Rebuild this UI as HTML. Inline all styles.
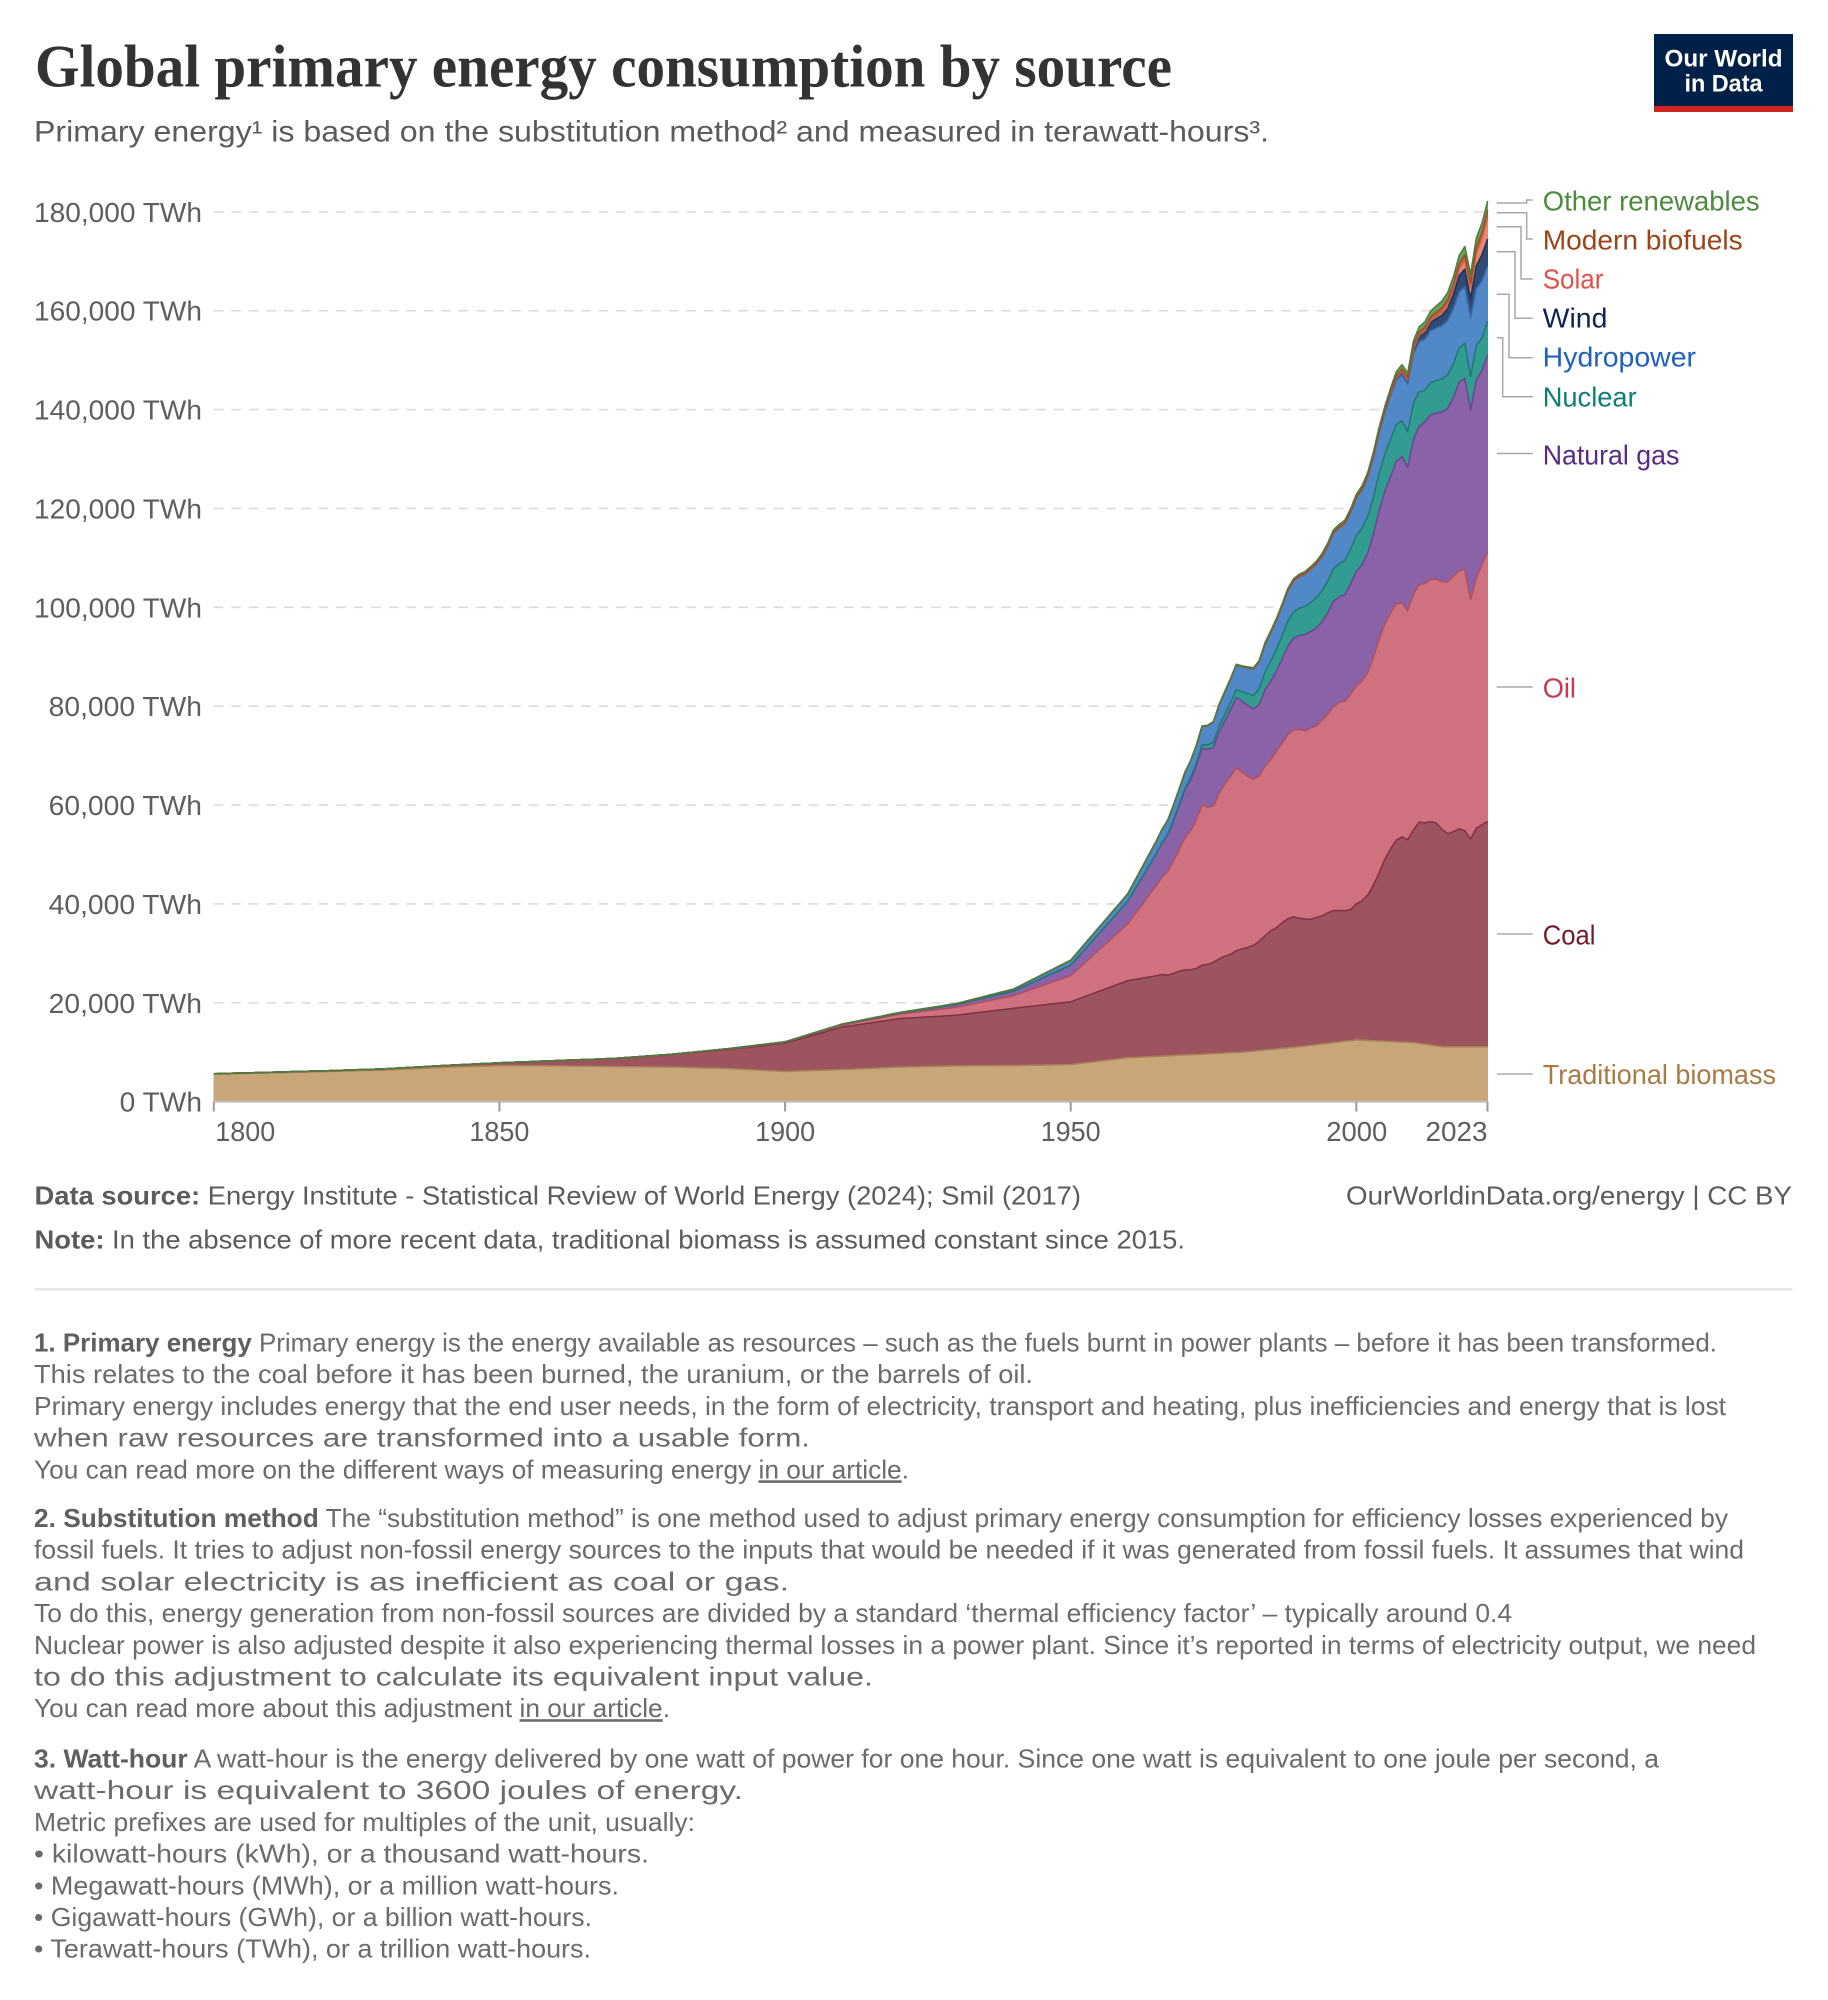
<!DOCTYPE html>
<html>
<head>
<meta charset="utf-8">
<style>
  html,body{margin:0;padding:0;background:#fff;}
  svg{display:block;}
  text{font-family:"Liberation Sans",Arial,sans-serif;}
</style>
</head>
<body>
<svg id="root" xmlns="http://www.w3.org/2000/svg" width="1828" height="2000" viewBox="0 0 1828 2000">
  <rect x="0" y="0" width="1828" height="2000" fill="#ffffff"/>

  <!-- Title -->
  <text x="35" y="86.5" font-family="Liberation Serif, serif" font-weight="bold" font-size="60" fill="#333333" textLength="1137" lengthAdjust="spacingAndGlyphs" style="font-family:'Liberation Serif',serif">Global primary energy consumption by source</text>
  <text x="34" y="141.7" font-size="30" fill="#5b5b5b" textLength="1235" lengthAdjust="spacingAndGlyphs">Primary energy¹ is based on the substitution method² and measured in terawatt-hours³.</text>

  <!-- Logo -->
  <rect x="1654" y="34" width="139" height="72" fill="#002147"/>
  <rect x="1654" y="106" width="139" height="6" fill="#ce261e"/>
  <text x="1664.5" y="66.7" font-size="24" font-weight="bold" fill="#ffffff" textLength="118" lengthAdjust="spacingAndGlyphs">Our World</text>
  <text x="1684.5" y="91.7" font-size="24" font-weight="bold" fill="#ffffff" textLength="78" lengthAdjust="spacingAndGlyphs">in Data</text>

  <!-- Gridlines -->
  <g stroke="#dadada" stroke-width="1.6" stroke-dasharray="9.5,8" fill="none">
    <line x1="213.8" x2="1487.5" y1="1002.83" y2="1002.83"/>
    <line x1="213.8" x2="1487.5" y1="903.96" y2="903.96"/>
    <line x1="213.8" x2="1487.5" y1="805.09" y2="805.09"/>
    <line x1="213.8" x2="1487.5" y1="706.22" y2="706.22"/>
    <line x1="213.8" x2="1487.5" y1="607.35" y2="607.35"/>
    <line x1="213.8" x2="1487.5" y1="508.48" y2="508.48"/>
    <line x1="213.8" x2="1487.5" y1="409.61" y2="409.61"/>
    <line x1="213.8" x2="1487.5" y1="310.74" y2="310.74"/>
    <line x1="213.8" x2="1487.5" y1="211.87" y2="211.87"/>
  </g>

  <!-- Y labels -->
  <g font-size="28" fill="#5e5e5e">
    <text x="34" y="221.9" textLength="168" lengthAdjust="spacingAndGlyphs">180,000 TWh</text>
    <text x="34" y="320.7" textLength="168" lengthAdjust="spacingAndGlyphs">160,000 TWh</text>
    <text x="34" y="419.6" textLength="168" lengthAdjust="spacingAndGlyphs">140,000 TWh</text>
    <text x="34" y="518.5" textLength="168" lengthAdjust="spacingAndGlyphs">120,000 TWh</text>
    <text x="34" y="617.4" textLength="168" lengthAdjust="spacingAndGlyphs">100,000 TWh</text>
    <text x="48.7" y="716.2" textLength="153.3" lengthAdjust="spacingAndGlyphs">80,000 TWh</text>
    <text x="48.7" y="815.1" textLength="153.3" lengthAdjust="spacingAndGlyphs">60,000 TWh</text>
    <text x="48.7" y="914.0" textLength="153.3" lengthAdjust="spacingAndGlyphs">40,000 TWh</text>
    <text x="48.7" y="1012.8" textLength="153.3" lengthAdjust="spacingAndGlyphs">20,000 TWh</text>
    <text x="119.7" y="1111.7" textLength="82.3" lengthAdjust="spacingAndGlyphs">0 TWh</text>
  </g>

  <!-- Areas -->
  <g id="areas"></g>
  <g id="lines"></g>

  <!-- X axis -->
  <line x1="213.8" x2="1487.5" y1="1101.7" y2="1101.7" stroke="#c2c2c2" stroke-width="2"/>
  <g stroke="#9a9a9a" stroke-width="2">
    <line x1="213.8" x2="213.8" y1="1101.7" y2="1111.5"/>
    <line x1="499.4" x2="499.4" y1="1101.7" y2="1111.5"/>
    <line x1="785.1" x2="785.1" y1="1101.7" y2="1111.5"/>
    <line x1="1070.7" x2="1070.7" y1="1101.7" y2="1111.5"/>
    <line x1="1356.3" x2="1356.3" y1="1101.7" y2="1111.5"/>
    <line x1="1487.5" x2="1487.5" y1="1101.7" y2="1111.5"/>
  </g>
  <g font-size="28" fill="#5e5e5e">
    <text x="215.3" y="1141" textLength="60" lengthAdjust="spacingAndGlyphs">1800</text>
    <text x="469.4" y="1141" textLength="60" lengthAdjust="spacingAndGlyphs">1850</text>
    <text x="755.1" y="1141" textLength="60" lengthAdjust="spacingAndGlyphs">1900</text>
    <text x="1040.7" y="1141" textLength="60" lengthAdjust="spacingAndGlyphs">1950</text>
    <text x="1326.3" y="1141" textLength="61" lengthAdjust="spacingAndGlyphs">2000</text>
    <text x="1425.5" y="1141" textLength="62" lengthAdjust="spacingAndGlyphs">2023</text>
  </g>

  <!-- Legend leader lines -->
  <g stroke="#a8a8a8" stroke-width="1.5" fill="none">
    <path d="M1496.7,203 H1526.7 V200 H1532.7"/>
    <path d="M1496.7,212.7 H1526.7 V239 H1532.7"/>
    <path d="M1496.7,226.7 H1521 V279 H1532.7"/>
    <path d="M1496.7,251.7 H1515 V318.3 H1532.7"/>
    <path d="M1496.7,294.3 H1509 V357.7 H1532.7"/>
    <path d="M1496.7,337.7 H1502.7 V396.7 H1532.7"/>
    <path d="M1496.7,453.5 H1532.7"/>
    <path d="M1496.7,687 H1532.7"/>
    <path d="M1496.7,934 H1532.7"/>
    <path d="M1496.7,1074 H1532.7"/>
  </g>
  <g font-size="28">
    <text x="1542.7" y="210.7" fill="#4c8a3c" textLength="217" lengthAdjust="spacingAndGlyphs">Other renewables</text>
    <text x="1542.7" y="249.3" fill="#9c4418" textLength="200" lengthAdjust="spacingAndGlyphs">Modern biofuels</text>
    <text x="1542.7" y="288.3" fill="#de5248" textLength="60.7" lengthAdjust="spacingAndGlyphs">Solar</text>
    <text x="1542.7" y="327.3" fill="#0f2452" textLength="64.7" lengthAdjust="spacingAndGlyphs">Wind</text>
    <text x="1542.7" y="366.7" fill="#1f60c0" textLength="153.3" lengthAdjust="spacingAndGlyphs">Hydropower</text>
    <text x="1542.7" y="406.7" fill="#0f7f74" textLength="94" lengthAdjust="spacingAndGlyphs">Nuclear</text>
    <text x="1542.7" y="464.6" fill="#5a2a85" textLength="136.7" lengthAdjust="spacingAndGlyphs">Natural gas</text>
    <text x="1542.7" y="697.7" fill="#c8384f" textLength="33.3" lengthAdjust="spacingAndGlyphs">Oil</text>
    <text x="1542.7" y="944.6" fill="#701c28" textLength="52.7" lengthAdjust="spacingAndGlyphs">Coal</text>
    <text x="1542.7" y="1084" fill="#a87a44" textLength="233.3" lengthAdjust="spacingAndGlyphs">Traditional biomass</text>
  </g>

  <!-- Footer -->
  <g font-size="26" fill="#5b5b5b">
    <text x="34.5" y="1204.3" textLength="1046.5" lengthAdjust="spacingAndGlyphs"><tspan font-weight="bold">Data source:</tspan> Energy Institute - Statistical Review of World Energy (2024); Smil (2017)</text>
    <text x="1346" y="1204.3" textLength="446" lengthAdjust="spacingAndGlyphs">OurWorldinData.org/energy | CC BY</text>
    <text x="34.5" y="1248.3" textLength="1150.5" lengthAdjust="spacingAndGlyphs"><tspan font-weight="bold">Note:</tspan> In the absence of more recent data, traditional biomass is assumed constant since 2015.</text>
  </g>
  <line x1="34.5" x2="1792.6" y1="1289.3" y2="1289.3" stroke="#e2e2e2" stroke-width="2"/>

  <!-- Footnotes -->
  <g font-size="26" fill="#6b6b6b">
    <text x="34" y="1351.5" textLength="1683" lengthAdjust="spacingAndGlyphs"><tspan font-weight="bold" fill="#5f5f5f">1. Primary energy</tspan> Primary energy is the energy available as resources – such as the fuels burnt in power plants – before it has been transformed.</text>
    <text x="34" y="1383.2" textLength="999" lengthAdjust="spacingAndGlyphs">This relates to the coal before it has been burned, the uranium, or the barrels of oil.</text>
    <text x="34" y="1414.9" textLength="1692" lengthAdjust="spacingAndGlyphs">Primary energy includes energy that the end user needs, in the form of electricity, transport and heating, plus inefficiencies and energy that is lost</text>
    <text x="34" y="1446.6" textLength="776" lengthAdjust="spacingAndGlyphs">when raw resources are transformed into a usable form.</text>
    <text x="34" y="1478.3" textLength="875" lengthAdjust="spacingAndGlyphs">You can read more on the different ways of measuring energy <tspan text-decoration="underline">in our article</tspan>.</text>

    <text x="34" y="1527" textLength="1694" lengthAdjust="spacingAndGlyphs"><tspan font-weight="bold" fill="#5f5f5f">2. Substitution method</tspan> The “substitution method” is one method used to adjust primary energy consumption for efficiency losses experienced by</text>
    <text x="34" y="1558.7" textLength="1710" lengthAdjust="spacingAndGlyphs">fossil fuels. It tries to adjust non-fossil energy sources to the inputs that would be needed if it was generated from fossil fuels. It assumes that wind</text>
    <text x="34" y="1590.4" textLength="755" lengthAdjust="spacingAndGlyphs">and solar electricity is as inefficient as coal or gas.</text>
    <text x="34" y="1622.1" textLength="1478" lengthAdjust="spacingAndGlyphs">To do this, energy generation from non-fossil sources are divided by a standard ‘thermal efficiency factor’ – typically around 0.4</text>
    <text x="34" y="1653.8" textLength="1722" lengthAdjust="spacingAndGlyphs">Nuclear power is also adjusted despite it also experiencing thermal losses in a power plant. Since it’s reported in terms of electricity output, we need</text>
    <text x="34" y="1685.5" textLength="839" lengthAdjust="spacingAndGlyphs">to do this adjustment to calculate its equivalent input value.</text>
    <text x="34" y="1717.2" textLength="636" lengthAdjust="spacingAndGlyphs">You can read more about this adjustment <tspan text-decoration="underline">in our article</tspan>.</text>

    <text x="34" y="1767.5" textLength="1625" lengthAdjust="spacingAndGlyphs"><tspan font-weight="bold" fill="#5f5f5f">3. Watt-hour</tspan> A watt-hour is the energy delivered by one watt of power for one hour. Since one watt is equivalent to one joule per second, a</text>
    <text x="34" y="1799.2" textLength="709" lengthAdjust="spacingAndGlyphs">watt-hour is equivalent to 3600 joules of energy.</text>
    <text x="34" y="1830.9" textLength="661" lengthAdjust="spacingAndGlyphs">Metric prefixes are used for multiples of the unit, usually:</text>
    <text x="34" y="1862.6" textLength="615" lengthAdjust="spacingAndGlyphs">• kilowatt-hours (kWh), or a thousand watt-hours.</text>
    <text x="34" y="1894.3" textLength="585" lengthAdjust="spacingAndGlyphs">• Megawatt-hours (MWh), or a million watt-hours.</text>
    <text x="34" y="1926" textLength="558" lengthAdjust="spacingAndGlyphs">• Gigawatt-hours (GWh), or a billion watt-hours.</text>
    <text x="34" y="1957.7" textLength="557" lengthAdjust="spacingAndGlyphs">• Terawatt-hours (TWh), or a trillion watt-hours.</text>
  </g>
</svg>

<script>
(function(){
  var X0=213.8, PX=5.7125, Y0=1101.7, PY=889.9/180000;
  function X(yr){return X0+(yr-1800)*PX;}
  function Y(v){return Y0-v*PY;}
  function ann(pre,start,arr){var r=pre.slice();for(var i=0;i<arr.length;i++){r.push(start+i,arr[i]);}return r;}
  function val(a,yr){
    if(yr<=a[0]) return a[1];
    for(var i=2;i<a.length;i+=2){
      if(yr<=a[i]){var y0=a[i-2],v0=a[i-1],y1=a[i],v1=a[i+1];return v0+(v1-v0)*(yr-y0)/(y1-y0);}
    }
    return a[a.length-1];
  }
  var bio=[1800,5556,1810,5833,1820,6111,1830,6389,1840,6944,1850,7300,1860,7250,1870,7100,1880,7000,1890,6700,1900,6111,1910,6500,1920,7000,1930,7250,1940,7300,1950,7500,1960,8889,1970,9444,1980,10000,1990,11111,2000,12500,2010,11944,2015,11111,2023,11111];
  var coal=ann([1800,97,1810,128,1820,153,1830,264,1840,356,1850,569,1860,1061,1870,1642,1880,2542,1890,3856,1900,5728,1910,8600,1920,9800,1930,10250,1940,11600,1950,12700,1960,15600],1965,
    [16300,16500,16300,16600,17000,17200,17200,17400,18000,18100,
     18500,19100,19600,19900,20600,20900,21100,21400,22100,23100,
     24000,24500,25400,26100,26400,26000,25700,25500,25700,25900,
     26400,26700,26600,26400,26500,27500,28200,29400,31500,34000,
     36800,39000,40800,41500,41000,43000,44800,44800,45200,45100,
     44000,43100,43500,44100,43700,42000,44200,44900,45600]);
  var oil=ann([1800,0,1860,0,1870,6,1880,33,1890,89,1900,181,1910,381,1920,889,1930,1586,1940,2556,1950,5300,1960,11500],1965,
    [18300,19700,21000,22800,24600,26700,28100,30100,32400,31800,
     31600,33500,34800,36100,37000,35800,34600,33600,33500,34300,
     34600,35700,36300,37300,37800,38200,38100,38700,38800,39600,
     40200,41200,42100,42400,43600,44100,44500,45000,46000,47300,
     47600,47700,47800,47300,46300,47700,48000,48400,49000,49300,
     50100,50900,51700,52200,52800,48500,50600,52600,54600]);
  var gas=ann([1800,0,1880,0,1890,67,1900,64,1910,156,1920,233,1930,553,1940,917,1950,2092,1960,4552],1965,
    [6400,6900,7400,8100,8900,9700,10300,10900,11500,11700,
     11800,12400,12800,13400,14200,14300,14400,14200,14400,15400,
     15900,16200,17000,17800,18500,19000,19400,19500,19800,19900,
     20500,21400,21300,21600,22200,23200,23500,24200,25000,26000,
     26800,27600,28800,29600,29000,31300,32000,32700,33300,33600,
     34300,35100,36100,38100,38700,38300,40000,39300,39800]);
  var nuc=[1800,0,1956,0,1960,20,1965,70,1970,250,1973,700,1975,1100,1979,1600,1980,1900,1985,4000,1988,5100,1990,5500,1993,6100,1995,6400,2000,7200,2002,7400,2005,7500,2006,7600,2007,7400,2008,7300,2009,7200,2010,7400,2011,7000,2012,6400,2013,6500,2014,6600,2015,6700,2016,6800,2017,6800,2018,6900,2019,7100,2020,6800,2021,7000,2022,6600,2023,6800];
  var hyd=[1800,0,1890,0,1900,20,1910,50,1920,100,1930,200,1940,400,1950,1000,1960,1500,1965,2500,1970,3300,1973,3700,1975,4100,1979,5000,1980,5100,1985,5800,1990,6400,1995,7100,2000,7600,2004,8300,2007,9000,2010,9900,2013,10500,2015,10700,2018,11400,2019,11400,2020,11700,2021,11500,2022,11500,2023,11100];
  var wind=[1800,0,1985,0,1990,10,1995,20,2000,85,2005,280,2008,600,2010,920,2012,1400,2015,2150,2018,3250,2019,3620,2020,4030,2021,4660,2022,5300,2023,5500];
  var sol=[1800,0,2000,0,2005,10,2008,30,2010,85,2011,180,2012,260,2013,350,2014,480,2015,670,2016,850,2017,1100,2018,1480,2019,1790,2020,2170,2021,2600,2022,3300,2023,4460];
  var biof=[1800,0,1975,0,1980,20,1985,80,1990,120,1995,120,2000,110,2005,220,2008,540,2010,650,2015,830,2019,1050,2020,990,2021,1070,2022,1170,2023,1300];
  var oth=[1800,0,1960,0,1965,40,1970,60,1980,140,1990,360,2000,580,2005,700,2010,950,2015,1400,2019,1700,2020,1800,2021,1900,2022,1950,2023,1930];

  var S=[
    {a:bio, f:'#C9A57A', s:'#A7835A'},
    {a:coal,f:'#9E545E', s:'#7D3340'},
    {a:oil, f:'#CF717F', s:'#B0505F'},
    {a:gas, f:'#8A62A8', s:'#6A4590'},
    {a:nuc, f:'#339C91', s:'#1D7A70'},
    {a:hyd, f:'#5088C8', s:'#3A6DAA'},
    {a:wind,f:'#2F4A75', s:'#1C3258'},
    {a:sol, f:'#E8876F', s:'#C9604C'},
    {a:biof,f:'#C4643C', s:'#A04A26'},
    {a:oth, f:'#68A05C', s:'#4A7F3E'}
  ];
  var NS='http://www.w3.org/2000/svg';
  var g=document.getElementById('areas'), gl=document.getElementById('lines');
  var N=2023-1800+1, cum=[];
  for(var k=0;k<N;k++) cum.push(0);
  S.forEach(function(s){
    var bot=cum.slice(), top=[];
    for(var k=0;k<N;k++) top.push(bot[k]+val(s.a,1800+k));
    var d='', l='';
    for(var k=0;k<N;k++){
      var pt=X(1800+k).toFixed(2)+','+Y(top[k]).toFixed(2);
      d+=(k?' L':'M')+pt; l+=(k?' L':'M')+pt;
    }
    for(var k=N-1;k>=0;k--) d+=' L'+X(1800+k).toFixed(2)+','+Y(bot[k]).toFixed(2);
    d+=' Z';
    var p=document.createElementNS(NS,'path');
    p.setAttribute('d',d); p.setAttribute('fill',s.f);
    p.setAttribute('stroke',s.f); p.setAttribute('stroke-width','0.6');
    g.appendChild(p);
    var pl=document.createElementNS(NS,'path');
    pl.setAttribute('d',l); pl.setAttribute('fill','none');
    pl.setAttribute('stroke',s.s); pl.setAttribute('stroke-width','1.5');
    pl.setAttribute('stroke-linejoin','round');
    gl.appendChild(pl);
    cum=top;
  });
})();
</script>
</body>
</html>
